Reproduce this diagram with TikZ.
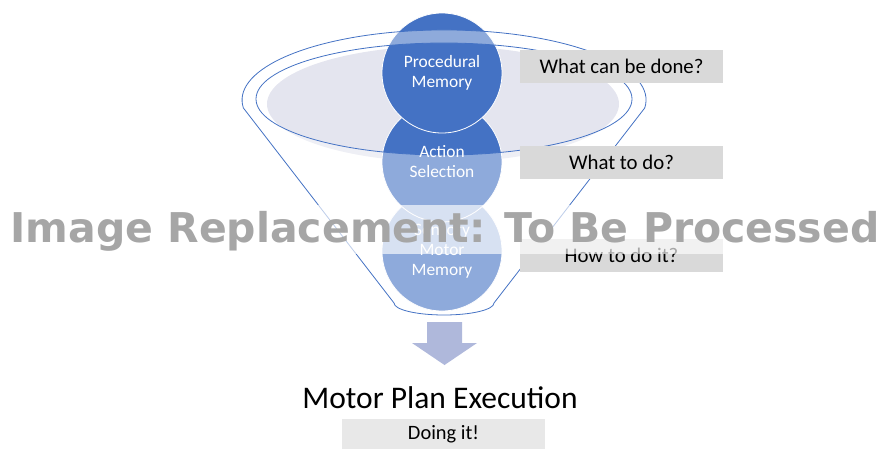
\documentclass[tikz,border=0pt]{standalone}
\usepackage{fontspec}
\setmainfont{Carlito}
\newfontfamily\wmfont{DejaVu Sans}
\definecolor{fblue}{HTML}{4472C4}
\definecolor{boxgray}{HTML}{D9D9D9}
\definecolor{boxlight}{HTML}{E8E8E8}
\definecolor{mouth}{RGB}{228,229,239}
\definecolor{arrowc}{RGB}{175,184,219}
\definecolor{wmgray}{RGB}{166,166,166}
\tikzset{
  ball/.style={circle, minimum size=120pt, inner sep=0pt, fill=fblue, draw=white, line width=0.8pt},
  balltext/.style={text=white, align=center, font=\fontsize{17.4}{20}\selectfont, inner sep=0pt},
  sidebox/.style={fill=boxgray, minimum width=203pt, minimum height=33pt, inner sep=0pt, font=\fontsize{20.8}{24}\selectfont},
  funnelline/.style={draw=fblue, line width=0.8pt},
}
\begin{document}
\begin{tikzpicture}[x=1pt,y=1pt]
\useasboundingbox (0,0) rectangle (882,-450);
% funnel mouth fill
\fill[mouth] (443,-104) ellipse [x radius=176pt, y radius=58pt];
% balls (bottom first)
\node[ball] (sm) at (442,-251) {};
\node[ball] (as) at (442,-162) {};
\node[ball] (pm) at (442,-73) {};
% funnel translucent body
\fill[white, fill opacity=0.4, even odd rule]
  (644.7,-108) arc[start angle=-6.6, end angle=186.6, x radius=202pt, y radius=70pt]
  -- (394,-303) arc[start angle=180, end angle=360, x radius=50pt, y radius=12pt]
  -- cycle
  (444,-99) ellipse [x radius=188pt, y radius=56pt];
% funnel outlines
\draw[funnelline]
  (644.7,-108) arc[start angle=-6.6, end angle=186.6, x radius=202pt, y radius=70pt]
  -- (394,-303) arc[start angle=180, end angle=360, x radius=50pt, y radius=12pt]
  -- cycle;
\draw[funnelline] (444,-99) ellipse [x radius=188pt, y radius=56pt];
% ball texts
\node[balltext] (pmt) at (pm.center) {Procedural\\Memory};
\node[balltext] (ast) at (as.center) {Action\\Selection};
\node[balltext] (smt) at (sm.center) {Sensory\\Motor\\Memory};
% side boxes
\node[sidebox] (b1) at (621.5,-66) {What can be done?};
\node[sidebox] (b2) at (621.5,-162) {What to do?};
\node[sidebox] (b3) at (621.5,-255.5) {How to do it?};
% arrow
\fill[arrowc] (427,-322) -- (462,-322) -- (462,-343) -- (477,-343) -- (444.5,-365)
  -- (412,-343) -- (427,-343) -- cycle;
% output
\node[anchor=base, inner sep=0pt, font=\fontsize{31.5}{36}\selectfont] (mpe) at (440,-408) {Motor Plan Execution};
\node[fill=boxlight, minimum width=203pt, minimum height=30pt, inner sep=0pt, font=\fontsize{20.4}{24}\selectfont] (doing) at (443.5,-434) {Doing it!};
% watermark
\fill[white, fill opacity=0.65] (0,-205) rectangle (882,-254);
\node[anchor=base, inner sep=0pt, text=wmgray, font=\wmfont\bfseries\fontsize{41}{48}\selectfont] (wm) at (445,-242) {Image Replacement: To Be Processed};
\end{tikzpicture}
\end{document}
